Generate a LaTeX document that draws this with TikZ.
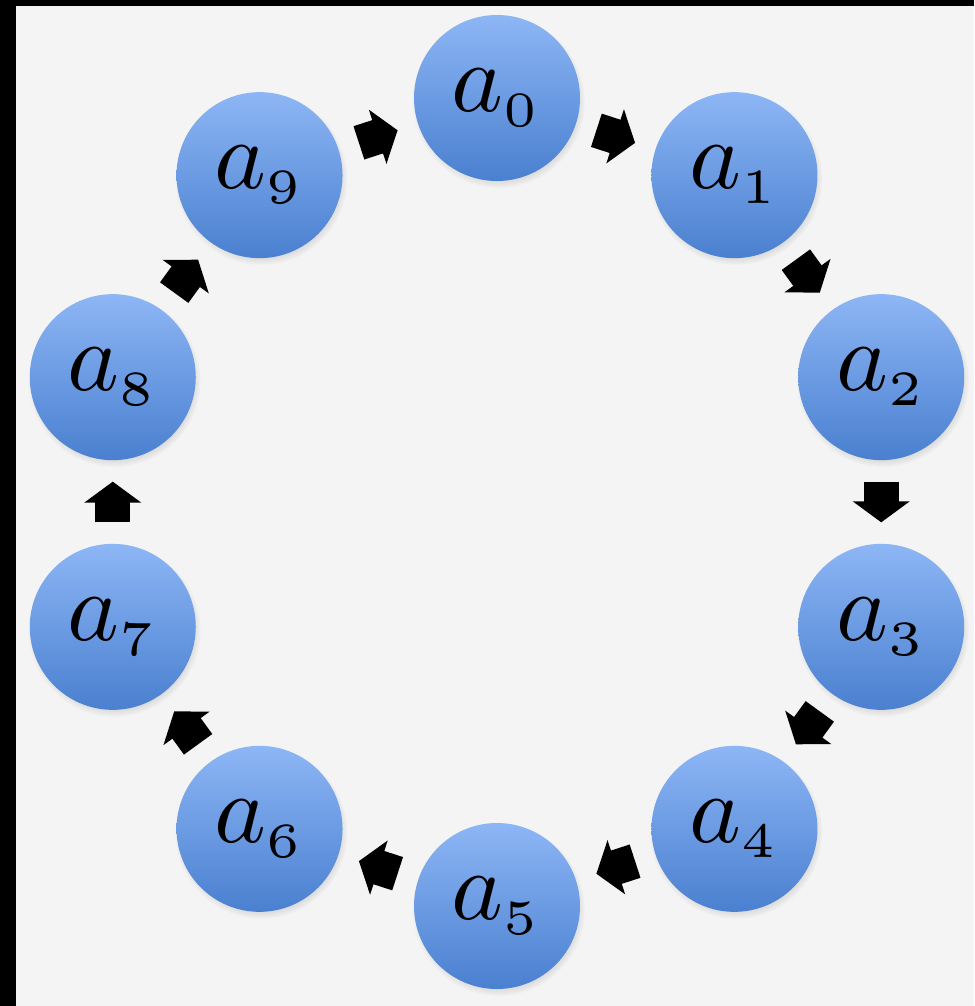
\documentclass[tikz,border=0pt]{standalone}
\usepackage{graphicx}
\usepackage{tikz}
\usetikzlibrary{arrows.meta, calc, positioning, shadows}
\definecolor{ballTop}{HTML}{8DB6F5}
\definecolor{ballBot}{HTML}{4A80D0}
\definecolor{paper}{HTML}{F4F4F4}
\newcommand{\bigsub}[1]{\scalebox{5.6}{$a_{\scriptscriptstyle #1}$}}

\begin{document}
\begin{tikzpicture}[
    ball/.style={circle, minimum size=3.32cm, inner sep=0pt, outer sep=0pt,
        top color=ballTop, bottom color=ballBot,
        circular drop shadow={shadow scale=1.04, shadow xshift=0.03cm, shadow yshift=-0.07cm, opacity=0.35},
        font=\normalsize},
    blk/.style={line width=0.7cm, -{Triangle[length=0.42cm, width=1.12cm]},
        shorten <=0.43cm, shorten >=0.43cm}
]
    % 背景
    \fill[black] (-9.94,-10.08) rectangle (9.54,10.04);
    \fill[paper] (-9.62,-10.08) rectangle (9.54,9.92);
    \useasboundingbox (-9.94,-10.08) rectangle (9.54,10.04);

    % 节点
    \foreach \i in {0,...,9} {
        \node[ball] (a\i) at ({90-36*\i}:8.08) {\bigsub{\i}};
    }

    % 箭头
    \foreach \i in {0,...,9} {
        \pgfmathtruncatemacro\j{mod(\i+1,10)}
        \draw[blk] (a\i) -- (a\j);
    }
\end{tikzpicture}
\end{document}
